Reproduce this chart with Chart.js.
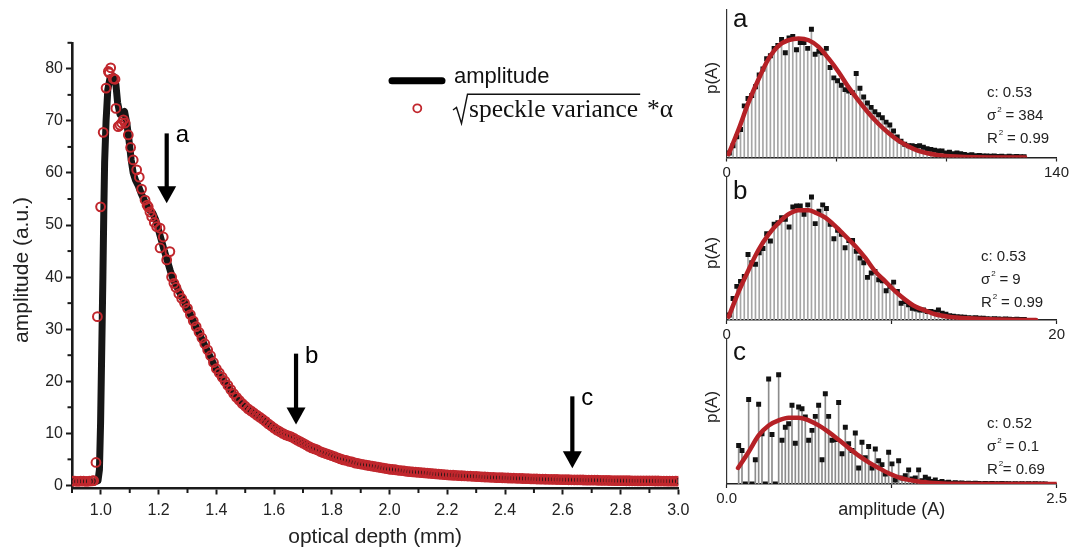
<!DOCTYPE html>
<html>
<head>
<meta charset="utf-8">
<script src="https://cdn.jsdelivr.net/npm/chart.js@4/dist/chart.umd.min.js"></script>
<style>
  html, body { margin: 0; padding: 0; background: #fff; }
  #wrap { position: relative; width: 1071px; height: 547px; overflow: hidden; }
  canvas { position: absolute; }
</style>
</head>
<body>
<div id="wrap">
  <canvas id="mainChart" width="700" height="547" style="left:0;top:0;width:700px;height:547px"></canvas>
  <canvas id="histA" width="371" height="180" style="left:700px;top:0;width:371px;height:180px"></canvas>
  <canvas id="histB" width="371" height="170" style="left:700px;top:170px;width:371px;height:170px"></canvas>
  <canvas id="histC" width="371" height="217" style="left:700px;top:330px;width:371px;height:217px"></canvas>
</div>
<script>
// ---- main chart data: optical depth (mm) vs amplitude (a.u.) ----
const depthTicks = [1.0, 1.2, 1.4, 1.6, 1.8, 2.0, 2.2, 2.4, 2.6, 2.8, 3.0];
const depthMinor = [0.9, 1.1, 1.3, 1.5, 1.7, 1.9, 2.1, 2.3, 2.5, 2.7, 2.9];
const ampTicks = [0, 10, 20, 30, 40, 50, 60, 70, 80];
const ampMinor = [5, 15, 25, 35, 45, 55, 65, 75, 85];

const amplitudeLine = [
  [0.90,0.7],[0.98,0.7],[0.99,0.9],[0.995,3],[0.999,12],[1.003,26],[1.007,40],[1.010,52],
  [1.013,62],[1.018,70],[1.024,76],[1.032,78.3],[1.045,78.5],[1.052,77],[1.058,73.5],
  [1.066,71.3],[1.075,71.5],[1.082,71.8],[1.090,69.5],[1.097,66.5],[1.105,62.5],[1.112,60],
  [1.12,58.6],[1.13,57.5],[1.14,56],[1.15,54.8],[1.16,53.6],[1.17,52.8],[1.18,52.3],[1.19,51],
  [1.20,49],[1.21,47],[1.22,45],[1.23,43.2],[1.24,41.3],[1.25,39.6],[1.30,34],[1.35,28],
  [1.40,22.2],[1.45,18.2],[1.50,15],[1.55,13],[1.60,11],[1.65,9.5],[1.70,8.1],[1.80,5.7],
  [1.90,4.1],[2.00,3.1],[2.20,2.0],[2.40,1.44],[2.60,1.1],[2.80,0.9],[3.00,0.78]
];

const speckle = [
  [0.90,0.8],[0.91,0.8],[0.92,0.75],[0.93,0.8],[0.94,0.8],[0.95,0.75],[0.96,0.8],[0.97,0.85],[0.975,0.9],
  [0.983,4.4],[0.988,32.4],[0.999,53.5],[1.008,67.8],[1.018,76.3],[1.026,79.5],[1.029,79.2],[1.034,80.2],
  [1.043,78.1],[1.049,78.0],[1.052,72.4],[1.060,68.9],[1.066,69.2],[1.072,69.6],[1.078,70.2],[1.084,69.6],
  [1.095,67.3],[1.103,64.9],[1.112,62.5],[1.124,60.6],[1.133,59.2],[1.141,56.9],[1.153,54.8],[1.160,53.8],
  [1.164,53.5],[1.170,52.5],[1.176,51.6],[1.185,50.5],[1.193,49.7],[1.205,49.4],[1.216,47.7],[1.205,45.6],
  [1.228,43.3],[1.239,44.9],[1.245,40.0],[1.253,38.8],
  [1.26,38.0],[1.27,36.8],[1.28,35.9],[1.29,35.0],[1.30,34.0],[1.31,32.8],[1.32,31.6],[1.33,30.5],
  [1.34,29.4],[1.35,28.3],[1.36,27.2],[1.37,26.0],[1.38,24.9],[1.39,23.6],[1.40,22.4],[1.41,21.6],
  [1.42,20.8],[1.43,20.0],[1.44,19.2],[1.45,18.4],[1.46,17.6],[1.47,16.9],[1.48,16.3],[1.49,15.7],
  [1.50,15.2],[1.51,14.7],[1.52,14.3],[1.53,13.9],[1.54,13.5],[1.55,13.1],[1.56,12.7],[1.57,12.3],
  [1.58,11.8],[1.59,11.4],[1.60,11.0],[1.61,10.6],[1.62,10.3],[1.63,10.0],[1.64,9.7],[1.65,9.5],
  [1.66,9.3],[1.67,9.0],[1.68,8.7],[1.69,8.4],[1.70,8.1],[1.71,7.8],[1.72,7.5],[1.73,7.2],[1.74,7.0],
  [1.75,6.8],[1.76,6.5],[1.77,6.3],[1.78,6.1],[1.79,5.9],[1.80,5.7],[1.81,5.5],[1.82,5.3],[1.83,5.1],
  [1.84,4.9],[1.85,4.8],[1.86,4.6],[1.87,4.5],[1.88,4.3],[1.89,4.2],[1.90,4.1],[1.91,4.0],[1.92,3.9],
  [1.93,3.8],[1.94,3.7],[1.95,3.6],[1.96,3.5],[1.97,3.4],[1.98,3.3],[1.99,3.2],[2.00,3.1],[2.01,3.05],
  [2.02,3.0],[2.03,2.9],[2.04,2.85],[2.05,2.8],[2.06,2.7],[2.07,2.65],[2.08,2.6],[2.09,2.55],[2.10,2.5],
  [2.11,2.45],[2.12,2.4],[2.13,2.35],[2.14,2.3],[2.15,2.25],[2.16,2.2],[2.17,2.15],[2.18,2.1],[2.19,2.05],
  [2.20,2.0],[2.21,1.97],[2.22,1.94],[2.23,1.91],[2.24,1.88],[2.25,1.85],[2.26,1.82],[2.27,1.79],
  [2.28,1.76],[2.29,1.73],[2.30,1.7],[2.31,1.67],[2.32,1.64],[2.33,1.61],[2.34,1.58],[2.35,1.55],
  [2.36,1.52],[2.37,1.5],[2.38,1.48],[2.39,1.46],[2.40,1.44],[2.41,1.42],[2.42,1.4],[2.43,1.38],
  [2.44,1.36],[2.45,1.34],[2.46,1.32],[2.47,1.3],[2.48,1.28],[2.49,1.26],[2.50,1.24],[2.51,1.22],
  [2.52,1.2],[2.53,1.19],[2.54,1.18],[2.55,1.17],[2.56,1.15],[2.57,1.14],[2.58,1.13],[2.59,1.12],
  [2.60,1.1],[2.61,1.09],[2.62,1.08],[2.63,1.07],[2.64,1.06],[2.65,1.05],[2.66,1.04],[2.67,1.03],
  [2.68,1.02],[2.69,1.01],[2.70,1.0],[2.71,0.99],[2.72,0.98],[2.73,0.97],[2.74,0.96],[2.75,0.95],
  [2.76,0.94],[2.77,0.93],[2.78,0.92],[2.79,0.91],[2.80,0.9],[2.81,0.9],[2.82,0.89],[2.83,0.89],
  [2.84,0.88],[2.85,0.88],[2.86,0.87],[2.87,0.87],[2.88,0.86],[2.89,0.86],[2.90,0.85],[2.91,0.85],
  [2.92,0.84],[2.93,0.84],[2.94,0.83],[2.95,0.83],[2.96,0.82],[2.97,0.82],[2.98,0.81],[2.99,0.81],[3.00,0.8]
];

// arrows marking where histograms a, b, c were taken (depth, arrow top, arrow tip)
const arrowMarks = [
  { label: 'a', depth: 1.228, from: 67.6, to: 54.2 },
  { label: 'b', depth: 1.676, from: 25.3, to: 11.7 },
  { label: 'c', depth: 2.633, from: 17.1, to: 3.3 }
];

// ---- histogram panels (counts normalised to the panel height) ----
const histA = [3,8,14,19,35,40,42,48,56,60, 67,69,74,76,80,71,81,82,73,78,
  78,74,87,70,72,71,74,61,54,52, 49,46,45,44,57,47,41,37,34,31,
  29,27,24,22,18,14,11,9,8,8, 7.5,8,7,6,5.5,5,4.5,4.5,3,3.5,
  2.5,3,2.5,2,1.5,1.8,1.2,1.4,1,1.1, 0.8,1,0.7,0.9,0.6,0.8,0.5,0.7,0.5,0.6];
const fitA = [[0.8,2.3],[5.1,19.3],[9.3,37.5],[13.6,53.4],[17.8,67],[22,75.7],[26.3,79.5],[30.5,80.7],
  [34.8,79.5],[39,75],[43.3,67],[47.5,58],[51.7,47.7],[56,38.6],[60.2,30.2],[64.5,22.7],[68.7,16.6],
  [72.9,11.4],[77.2,7.5],[81.4,4.5],[85.7,2.7],[89.9,1.6],[97,0.7],[105.5,0.2],[126.7,0]];
const ticksA = [0, 46.67, 93.33, 140];
const statsA = ['0.53', '384', '0.99'];

const histB = [3.5,15,23.5,27,30.5,45.8,40,39,47,50, 60.3,55.2,66.9,68,71.6,70.4,65,79,79.8,79.8,
  74,80.5,86,67.4,76,80.5,78,67,56.8,62.7, 60,50.5,55.6,55.6,48,43.4,40,29.8,32.9,34,
  28.2,27.5,20.4,23.5,26.5,20,11.7,13,10.6,8.2, 7.7,7,7,5.9,5.9,5.4,7,4.7,4,3,
  2.6,2.3,2.1,1.9,1.6,1.4,1.6,1.2,1.2,0.9, 0.7,0.9,0.7,0.5,0.7,0.5,0.3,0.5,0.3,0.3];
const fitB = [[0.12,2.3],[0.73,20],[1.33,35.2],[1.94,49.3],[2.54,59.9],[3.15,68],[3.75,74],[4.36,76.8],
  [4.97,76.8],[5.37,75.1],[5.98,71.6],[6.58,65.7],[7.19,58.7],[7.8,51.6],[8.4,43.4],[9.0,34],[9.61,27],
  [10.22,20],[10.83,14.1],[11.43,9.4],[12.04,6.6],[12.64,4],[13.45,2.3],[14.66,1.2],[17.9,0],[18.75,0]];
const ticksB = [0, 10, 20];
const statsB = ['0.53', '9', '0.99'];

const histC = [26.4,23,0,58,0,16.6,54.7,34.5,0,72, 34,0,75,30,39,41.4,54,28,52.9,51.7,
  46,30,36.8,46.4,54,16.6,62,46.4,30,30.6, 55.9,20.7,39,27.6,23,35,11,28.7,18,25.7,
  11,24,16,13.3,6.9,21.8,13.8,2.8,16,4.1, 5.7,9.7,3.4,4.1,9.7,2.3,4.6,3.4,1.8,2.8,
  1.1,1.8,0.9,1.2,0.6,0.9,0.5,0.7,0.4,0.5, 0.3,0.5,0.3,0.2,0.4,0.2,0.3,0.2,0.2,0.3,
  0.2,0.2,0.1,0.2,0.1,0.2,0.1,0.2,0.1,0.2,0.1,0.1,0.1];
const fitC = [[0.086,11],[0.166,22],[0.242,33.3],[0.318,40.2],[0.394,43.7],[0.469,45.5],[0.545,45.5],
  [0.621,43.7],[0.697,40.2],[0.773,35.6],[0.848,30.3],[0.924,24.8],[1.0,19.5],[1.076,14.9],[1.151,11],
  [1.227,7.4],[1.303,4.6],[1.379,2.8],[1.48,1.4],[1.606,0.5],[1.732,0.1],[2.0,0],[2.5,0]];
const ticksC = [0, 1.25, 2.5];
const statsC = ['0.52', '0.1', '0.69'];

const SANS = "'Liberation Sans', Arial, sans-serif";
const SERIF = "'Liberation Serif', 'Times New Roman', serif";
const INK = '#1a1a1a';
const RED = '#c1272d';

const toXY = arr => arr.map(([x, y]) => ({ x, y }));

// ---------- main chart ----------
const mainDecor = {
  id: 'mainDecor',
  afterDraw(chart) {
    const { ctx, chartArea: ca, scales: { x, y } } = chart;
    ctx.save();
    // minor ticks
    ctx.strokeStyle = INK;
    ctx.lineWidth = 2;
    depthMinor.forEach(v => {
      const px = x.getPixelForValue(v);
      ctx.beginPath(); ctx.moveTo(px, ca.bottom); ctx.lineTo(px, ca.bottom + 4.5); ctx.stroke();
    });
    ampMinor.forEach(v => {
      const py = y.getPixelForValue(v);
      ctx.beginPath(); ctx.moveTo(ca.left - 4.5, py); ctx.lineTo(ca.left, py); ctx.stroke();
    });

    // arrows
    ctx.fillStyle = '#000';
    arrowMarks.forEach(a => {
      const px = x.getPixelForValue(a.depth);
      const top = y.getPixelForValue(a.from);
      const tip = y.getPixelForValue(a.to);
      ctx.fillRect(px - 2.1, top, 4.2, tip - 16 - top);
      ctx.beginPath();
      ctx.moveTo(px - 9.5, tip - 17);
      ctx.lineTo(px + 9.5, tip - 17);
      ctx.lineTo(px, tip);
      ctx.closePath();
      ctx.fill();
      ctx.font = '24px ' + SANS;
      ctx.textAlign = 'left';
      ctx.textBaseline = 'alphabetic';
      ctx.fillText(a.label, px + 9, top + 9);
    });

    // axis titles
    ctx.fillStyle = '#222';
    ctx.font = '21px ' + SANS;
    ctx.textAlign = 'center';
    ctx.textBaseline = 'alphabetic';
    ctx.fillText('optical depth (mm)', (ca.left + ca.right) / 2, 543);
    ctx.save();
    ctx.translate(28, 270);
    ctx.rotate(-Math.PI / 2);
    ctx.fillText('amplitude (a.u.)', 0, 0);
    ctx.restore();

    // legend
    ctx.strokeStyle = '#000';
    ctx.lineWidth = 7;
    ctx.lineCap = 'round';
    ctx.beginPath(); ctx.moveTo(392, 80.7); ctx.lineTo(442, 80.7); ctx.stroke();
    ctx.fillStyle = '#111';
    ctx.font = '22px ' + SANS;
    ctx.textAlign = 'left';
    ctx.fillText('amplitude', 454, 83);

    ctx.strokeStyle = RED;
    ctx.lineWidth = 1.8;
    ctx.beginPath(); ctx.arc(417.3, 108.3, 4, 0, Math.PI * 2); ctx.stroke();

    ctx.font = '25.5px ' + SERIF;
    const txt = 'speckle variance';
    const w = ctx.measureText(txt).width;
    ctx.fillText(txt, 469, 116.7);
    ctx.fillText('*α', 647, 116.7);
    // radical sign over the text
    ctx.strokeStyle = '#111';
    ctx.lineWidth = 1.4;
    ctx.lineCap = 'butt';
    ctx.beginPath();
    ctx.moveTo(453, 110);
    ctx.lineTo(456.5, 107.5);
    ctx.lineTo(461.5, 123.5);
    ctx.lineTo(467.5, 94.3);
    ctx.lineTo(469 + w + 2, 94.3);
    ctx.stroke();
    ctx.restore();
  }
};

new Chart(document.getElementById('mainChart'), {
  type: 'scatter',
  data: {
    datasets: [
      {
        type: 'line',
        label: 'amplitude',
        data: toXY(amplitudeLine),
        borderColor: '#161616',
        borderWidth: 7,
        pointRadius: 0,
        tension: 0,
        borderJoinStyle: 'round',
        borderCapStyle: 'round',
        order: 2
      },
      {
        label: 'speckle variance',
        data: toXY(speckle),
        pointStyle: 'circle',
        pointRadius: 4.4,
        pointBorderWidth: 2,
        borderColor: RED,
        backgroundColor: 'rgba(0,0,0,0)',
        order: 1
      }
    ]
  },
  options: {
    responsive: false,
    animation: false,
    layout: { padding: { left: 0, top: 42.8, right: 21.7, bottom: 0 } },
    plugins: { legend: { display: false }, tooltip: { enabled: false } },
    scales: {
      x: {
        type: 'linear', min: 0.9, max: 3.0,
        afterBuildTicks: s => { s.ticks = depthTicks.map(v => ({ value: v })); },
        afterFit: s => { s.height = 58.5; },
        ticks: {
          callback: v => Number(v).toFixed(1),
          font: { family: SANS, size: 16 }, color: '#222',
          padding: 6, maxRotation: 0, autoSkip: false
        },
        grid: { drawOnChartArea: false, drawTicks: true, tickLength: 6, tickWidth: 2, tickColor: INK },
        border: { display: true, width: 2.6, color: INK }
      },
      y: {
        type: 'linear', min: -0.6, max: 85,
        afterBuildTicks: s => { s.ticks = ampTicks.map(v => ({ value: v })); },
        afterFit: s => { s.width = 72; },
        ticks: {
          callback: v => String(v),
          font: { family: SANS, size: 16 }, color: '#222',
          padding: 3, autoSkip: false
        },
        grid: { drawOnChartArea: false, drawTicks: true, tickLength: 6, tickWidth: 2, tickColor: INK },
        border: { display: true, width: 2.6, color: INK }
      }
    }
  },
  plugins: [mainDecor]
});

// ---------- histogram panels ----------
function makePanel(id, cfg) {
  const bins = cfg.hist.map((v, i) => ({ x: cfg.binStart + cfg.binWidth * i, y: v })); // bin centres
  const decor = {
    id: 'panelDecor' + id,
    afterDraw(chart) {
      const { ctx, chartArea: ca } = chart;
      ctx.save();
      ctx.fillStyle = '#111';
      ctx.textAlign = 'left';
      ctx.textBaseline = 'alphabetic';
      ctx.font = (cfg.letterBold ? 'bold ' : '') + '26px ' + SANS;
      ctx.fillText(cfg.letter, 33, cfg.letterBase);

      ctx.fillStyle = '#222';
      ctx.font = '17px ' + SANS;
      ctx.save();
      ctx.translate(17, cfg.pY);
      ctx.rotate(-Math.PI / 2);
      ctx.textAlign = 'center';
      ctx.fillText('p(A)', 0, 0);
      ctx.restore();

      const sx = cfg.statX;
      let yb = cfg.statY;
      ctx.font = '15px ' + SANS;
      ctx.fillText('c: ' + cfg.stats[0], sx, yb);
      yb += 23;
      ctx.fillText('σ', sx, yb);
      let wx = sx + ctx.measureText('σ').width;
      ctx.font = '8px ' + SANS;
      ctx.fillText('2', wx + 1, yb - 8);
      ctx.font = '15px ' + SANS;
      ctx.fillText(' = ' + cfg.stats[1], wx + 5, yb);
      yb += 23;
      ctx.fillText('R', sx, yb);
      wx = sx + ctx.measureText('R').width;
      ctx.font = '8px ' + SANS;
      ctx.fillText('2', wx + 1, yb - 8);
      ctx.font = '15px ' + SANS;
      ctx.fillText((cfg.rSpace ? ' = ' : '= ') + cfg.stats[2], wx + 5, yb);

      if (cfg.xTitle) {
        ctx.font = '18px ' + SANS;
        ctx.textAlign = 'center';
        ctx.fillText(cfg.xTitle, (ca.left + ca.right) / 2, ca.bottom + 31);
      }
      ctx.restore();
    }
  };

  const canvas = document.getElementById(id);
  new Chart(canvas, {
    type: 'bar',
    data: {
      datasets: [
        {
          type: 'line',
          data: toXY(cfg.fit),
          borderColor: '#b52126',
          borderWidth: 4.5,
          pointRadius: 0,
          tension: 0.4,
          cubicInterpolationMode: 'monotone',
          borderCapStyle: 'round',
          order: 0
        },
        {
          type: 'scatter',
          data: bins,
          pointStyle: 'rect',
          pointRadius: 3.5,
          backgroundColor: '#111',
          borderWidth: 0,
          order: 1
        },
        {
          type: 'bar',
          data: bins,
          backgroundColor: cfg.stemColor,
          barThickness: 1,
          grouped: false,
          order: 2
        }
      ]
    },
    options: {
      responsive: false,
      animation: false,
      layout: { padding: { left: 0, top: cfg.top, right: canvas.width - 356.7, bottom: 0 } },
      plugins: { legend: { display: false }, tooltip: { enabled: false } },
      scales: {
        x: {
          type: 'linear', min: 0, max: cfg.ticks[cfg.ticks.length - 1], offset: false,
          afterBuildTicks: s => { s.ticks = cfg.ticks.map(v => ({ value: v })); },
          afterFit: s => { s.height = cfg.xHeight; },
          ticks: {
            callback: (v, i) => cfg.tickLabels[i],
            font: { family: SANS, size: 15 }, color: '#222',
            padding: 2, maxRotation: 0, autoSkip: false
          },
          grid: { offset: false, drawOnChartArea: false, drawTicks: true, tickLength: 4, tickWidth: 1.2, tickColor: '#222' },
          border: { display: true, width: 1.4, color: '#222' }
        },
        y: {
          type: 'linear', min: 0, max: 100,
          afterFit: s => { s.width = 26.7; },
          ticks: { display: false },
          grid: { display: false, drawTicks: false },
          border: { display: true, width: 1.2, color: '#333' }
        }
      }
    },
    plugins: [decor]
  });
}

makePanel('histA', {
  hist: histA, fit: fitA, binStart: 1.12, binWidth: 1.584,
  ticks: ticksA, tickLabels: ['0', '', '', '140'], stats: statsA, rSpace: true,
  top: 10, xHeight: 22.5, letter: 'a', letterBase: 27, pY: 78,
  statX: 287, statY: 96.7, stemColor: '#a6a6a6'
});
makePanel('histB', {
  hist: histB, fit: fitB, binStart: 0.16, binWidth: 0.2263,
  ticks: ticksB, tickLabels: ['0', '', '20'], stats: statsB, rSpace: true,
  top: 7, xHeight: 20, letter: 'b', letterBase: 28.5, pY: 83,
  statX: 281, statY: 91, stemColor: '#a6a6a6'
});
makePanel('histC', {
  hist: histC, fit: fitC, binStart: 0.0906, binWidth: 0.02525,
  ticks: ticksC, tickLabels: ['0.0', '', '2.5'], stats: statsC, rSpace: false,
  top: 8.3, xHeight: 63, letter: 'c', letterBold: false, letterBase: 30, pY: 77,
  statX: 287, statY: 98.3, stemColor: '#8c8c8c', xTitle: 'amplitude (A)'
});
</script>
</body>
</html>
